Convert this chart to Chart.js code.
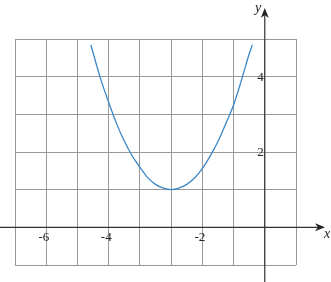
<!DOCTYPE html>
<html>
<head>
<meta charset="utf-8">
<script src="https://cdn.jsdelivr.net/npm/chart.js@4"></script>
<style>
  body { margin: 0; background: #fff; }
  #wrap { width: 331px; height: 282px; }
</style>
</head>
<body>
<div id="wrap"><canvas id="chart" width="331" height="282"></canvas></div>
<script>
'use strict';
// точки кривой
const xValues = [-5.57, -5.25, -5, -4.75, -4.5, -4.25, -4, -3.75, -3.5, -3.25, -3, -2.75, -2.5, -2.25, -2, -1.75, -1.5, -1.25, -1, -0.75, -0.5, -0.4];
const yValues = [4.84, 3.92, 3.32, 2.76, 2.29, 1.9, 1.6, 1.32, 1.14, 1.04, 1.0, 1.04, 1.14, 1.31, 1.56, 1.89, 2.28, 2.75, 3.25, 3.9, 4.6, 4.84];

// подписи делений (как на рисунке)
const xTickValues = [-7, -5, -2];
const xTickLabels = ['-6', '-4', '-2'];
const yTickValues = [2, 4];
const yTickLabels = ['2', '4'];

const axesPlugin = {
    id: 'axes',
    afterDraw(chart) {
        const ctx = chart.ctx;
        const xs = chart.scales.x;
        const ys = chart.scales.y;
        const x0 = xs.getPixelForValue(0);
        const y0 = ys.getPixelForValue(0);
        ctx.save();
        ctx.strokeStyle = '#333';
        ctx.fillStyle = '#222';
        ctx.lineWidth = 1.2;
        // оси
        ctx.beginPath();
        ctx.moveTo(0, y0);
        ctx.lineTo(320, y0);
        ctx.moveTo(x0, 282);
        ctx.lineTo(x0, 13);
        ctx.stroke();
        // стрелки
        ctx.beginPath();
        ctx.moveTo(325, y0);
        ctx.lineTo(315, y0 - 4);
        ctx.lineTo(318, y0);
        ctx.lineTo(315, y0 + 4);
        ctx.closePath();
        ctx.fill();
        ctx.beginPath();
        ctx.moveTo(x0, 8);
        ctx.lineTo(x0 - 4, 18);
        ctx.lineTo(x0, 15);
        ctx.lineTo(x0 + 4, 18);
        ctx.closePath();
        ctx.fill();
        // подписи
        ctx.font = '13px "Liberation Serif"';
        ctx.textAlign = 'right';
        ctx.textBaseline = 'alphabetic';
        xTickValues.forEach((v, i) => {
            ctx.fillText(xTickLabels[i], xs.getPixelForValue(v) + 3, y0 + 14);
        });
        yTickValues.forEach((v, i) => {
            ctx.fillText(yTickLabels[i], x0 - 1, ys.getPixelForValue(v) + 4);
        });
        ctx.font = 'italic 14px "Liberation Serif"';
        ctx.textAlign = 'left';
        ctx.fillText('x', 324, y0 + 11);
        ctx.fillText('y', 255, 12);
        ctx.restore();
    }
};

new Chart(document.getElementById('chart').getContext('2d'), {
    type: 'line',
    data: {
        datasets: [{
            data: xValues.map((x, i) => ({ x: x, y: yValues[i] })),
            borderColor: '#3b87c9',
            borderWidth: 1.3,
            pointRadius: 0,
            cubicInterpolationMode: 'monotone',
            fill: false
        }]
    },
    options: {
        responsive: false,
        animation: false,
        layout: { padding: { left: 15, top: 39, right: 35, bottom: 17 } },
        plugins: { legend: { display: false }, tooltip: { enabled: false } },
        scales: {
            x: {
                type: 'linear',
                min: -8,
                max: 1,
                ticks: { display: false, stepSize: 1 },
                grid: { color: '#999', lineWidth: 1, drawTicks: false },
                border: { display: false }
            },
            y: {
                min: -1,
                max: 5,
                ticks: { display: false, stepSize: 1 },
                grid: { color: '#999', lineWidth: 1, drawTicks: false },
                border: { display: false }
            }
        }
    },
    plugins: [axesPlugin]
});
</script>
</body>
</html>
